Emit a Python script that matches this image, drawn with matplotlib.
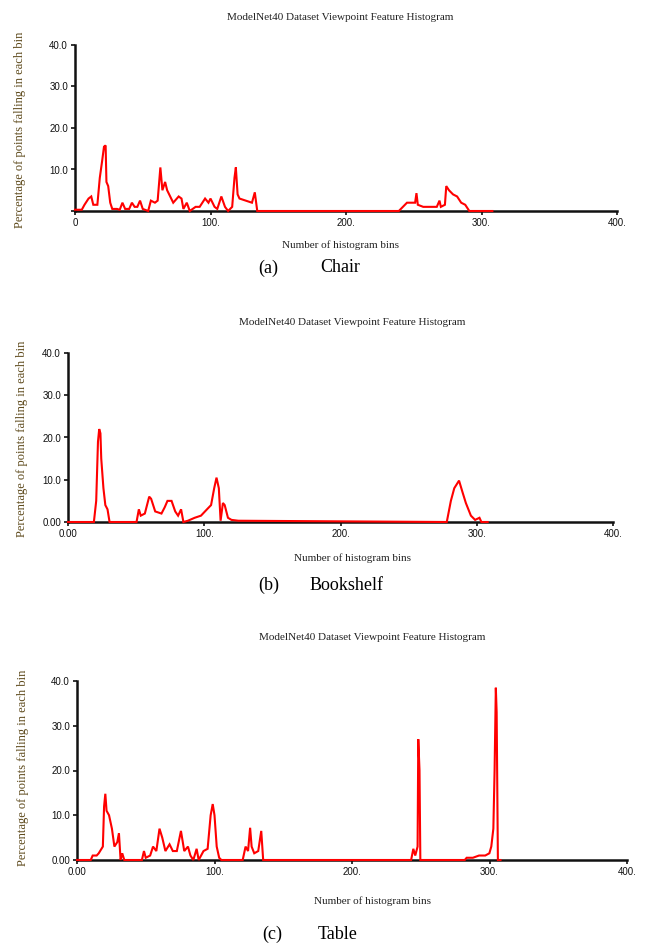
import matplotlib
matplotlib.use('Agg')
import matplotlib.pyplot as plt

W, H = 648, 946

# (a) Chair
chair_bins = [0, 5, 7, 10, 12, 13.5, 16.5, 18.3, 20, 21.4, 22.6, 23.2, 24.5, 26, 27.5, 31, 33, 35, 37, 40,
              42, 44, 46, 48, 50, 54, 56, 59, 61, 63, 64.5, 66.5, 68, 69.5, 72.5, 76.5, 78.6, 80, 82.5, 84.7,
              89, 92, 96, 98.5, 100, 103, 105, 108, 110.7, 113, 116, 117.7, 118.7, 120, 121.4, 126, 130.6, 132.7, 134.5,
              239, 242, 245, 251, 252, 253, 257, 267, 269, 270, 273, 274, 276, 279, 282, 285, 288, 291, 308]
chair_vals = [0.3, 0.3, 1.5, 3, 3.5, 1.5, 1.5, 8, 12, 15.5, 15.8, 7, 6, 2, 0.5, 0.5, 0.3, 2, 0.5, 0.5,
              2, 1, 1, 2.5, 0.5, 0, 2.5, 2, 2.5, 10.5, 5, 7, 5, 4, 2, 3.5, 3, 0.5, 2, 0,
              1, 1, 3, 2, 3, 1, 0.5, 3.5, 1, 0, 1, 8, 10.5, 4, 3, 2.5, 2, 4.5, 0,
              0, 1, 2, 2, 4.3, 1.5, 1, 1, 2.5, 1, 1.5, 6, 5, 4, 3.5, 2, 1.5, 0, 0]

# (b) Bookshelf
shelf_bins = [0, 18, 19, 20.7, 22, 22.9, 23.8, 24.4, 26, 27.4, 29, 30.5, 50.3, 52, 53.4, 56.4, 59.6, 61, 64,
              68.6, 71, 73, 76, 78.7, 80.8, 83, 84.7, 88, 93, 97.6, 102, 105, 107.3, 109, 110.7, 112, 113.7,
              115, 117.4, 120, 125, 278, 281, 283.5, 287, 289.6, 292, 295.7, 298.8, 302, 303.4, 308]
shelf_vals = [0, 0, 0, 5, 19, 22, 21, 15, 8, 4, 3, 0, 0, 3, 1.5, 2, 6, 5.5, 2.5,
              2, 3.5, 5, 5, 2.5, 1.5, 3, 0, 0.3, 1, 1.5, 3, 4, 8, 10.5, 8, 0.3, 4.5,
              4, 1, 0.5, 0.3, 0, 5, 8, 9.8, 7, 4.5, 1.5, 0.5, 1, 0, 0]

# (c) Table
table_bins = [0, 10, 11.4, 14.3, 15.8, 18.8, 19.7, 20.6, 21.5, 23.3, 25.4, 27.2, 29.3, 30.5, 31.7, 32.9, 34.4,
              47.2, 48.7, 50, 53.2, 55.3, 57.7, 60, 62, 64.3, 67.3, 69.7, 72.6, 75.6, 78, 80.7, 82.5, 84.6,
              87, 88.5, 92, 95, 97.2, 98.7, 100, 101.6, 103.4, 105, 120.5, 122.6, 124.4, 125.9, 127, 128.9,
              131.8, 134, 135.4, 243, 244.6, 246, 247.7, 248.2, 249.1, 249.7, 282, 283.4, 287.9, 292.4,
              296.9, 299.9, 301.3, 302.8, 303.7, 304.6, 305.2, 306.1, 308]
table_vals = [0, 0, 1, 1, 1.5, 3, 12, 14.8, 11, 10, 7, 3, 4, 6, 0, 1.5, 0,
              0, 2, 0.5, 1, 3, 2, 7, 5, 2, 3.5, 2, 2, 6.5, 2, 3, 1, 0,
              2.5, 0, 2, 2.5, 10, 12.5, 10, 3, 0.5, 0, 0, 3, 2, 7.2, 3, 1.5,
              2, 6.5, 0, 0, 2.5, 1, 3, 27, 20, 0, 0, 0.5, 0.5, 1,
              1, 1.5, 3, 7, 20, 38.5, 33, 0, 0]

y_ticks = [0, 10, 20, 30, 40]
x_ticks = [0, 100, 200, 300, 400]
x_labels_a = ['0', '100.', '200.', '300.', '400.']
x_labels_bc = ['0.00', '100.', '200.', '300.', '400.']
y_labels_a = ['', '10.0', '20.0', '30.0', '40.0']
y_labels_bc = ['0.00', '10.0', '20.0', '30.0', '40.0']

title = 'ModelNet40 Dataset Viewpoint Feature Histogram'
ylab = 'Percentage of points falling in each bin'
xlab = 'Number of histogram bins'

serif = 'Liberation Serif'
tickfont = 'Liberation Sans'

# pixel layout for each panel
panels = [
    dict(bins=chair_bins, vals=chair_vals, box=(75, 617, 45, 211), xl=x_labels_a, yl=y_labels_a,
         title=(340, 17), xlab=(340, 245), ylab=(20, 130), cap=(258, 320, 268), tag='(a)', name='Chair'),
    dict(bins=shelf_bins, vals=shelf_vals, box=(68, 613, 353, 522), xl=x_labels_bc, yl=y_labels_bc,
         title=(352, 322), xlab=(352, 558), ylab=(22, 439), cap=(258, 310, 585), tag='(b)', name='Bookshelf'),
    dict(bins=table_bins, vals=table_vals, box=(77, 627, 681, 860), xl=x_labels_bc, yl=y_labels_bc,
         title=(372, 638), xlab=(372, 901), ylab=(23, 768), cap=(262, 318, 934), tag='(c)', name='Table'),
]

fig = plt.figure(figsize=(W / 100, H / 100), dpi=100)

for p in panels:
    x0, x1, yt, yb = p['box']
    ax = fig.add_axes([x0 / W, 1 - yb / H, (x1 - x0) / W, (yb - yt) / H])
    ax.plot(p['bins'], p['vals'], color='#ff0000', lw=1.5,
            solid_joinstyle='miter', zorder=3, clip_on=False)
    ax.set_xlim(0, 400)
    ax.set_ylim(0, 40)
    for s in ['top', 'right']:
        ax.spines[s].set_visible(False)
    for s in ['left', 'bottom']:
        ax.spines[s].set_linewidth(1.8)
        ax.spines[s].set_color('#111111')
    ax.set_xticks(x_ticks)
    ax.set_xticklabels(p['xl'], fontsize=7, family=tickfont, color='#111111')
    ax.set_yticks(y_ticks)
    ax.set_yticklabels(p['yl'], fontsize=7, family=tickfont, color='#111111')
    ax.tick_params(axis='both', length=3, width=1.2, color='#111111', pad=2)
    ax.patch.set_alpha(0)

    fig.text(p['title'][0] / W, 1 - p['title'][1] / H, title, ha='center', va='center',
             fontsize=8, family=serif, color='#222222')
    fig.text(p['xlab'][0] / W, 1 - p['xlab'][1] / H, xlab, ha='center', va='center',
             fontsize=8, family=serif, color='#222222')
    fig.text(p['ylab'][0] / W, 1 - p['ylab'][1] / H, ylab, ha='center', va='center',
             rotation=90, fontsize=9, family=serif, color='#5e4a1c')
    tx, nx, cy = p['cap']
    fig.text(tx / W, 1 - cy / H, p['tag'], ha='left', va='center',
             fontsize=13, family=serif, color='black')
    fig.text(nx / W, 1 - cy / H, p['name'], ha='left', va='center',
             fontsize=13, family=serif, color='black')

fig.savefig('out.png', dpi=100)
